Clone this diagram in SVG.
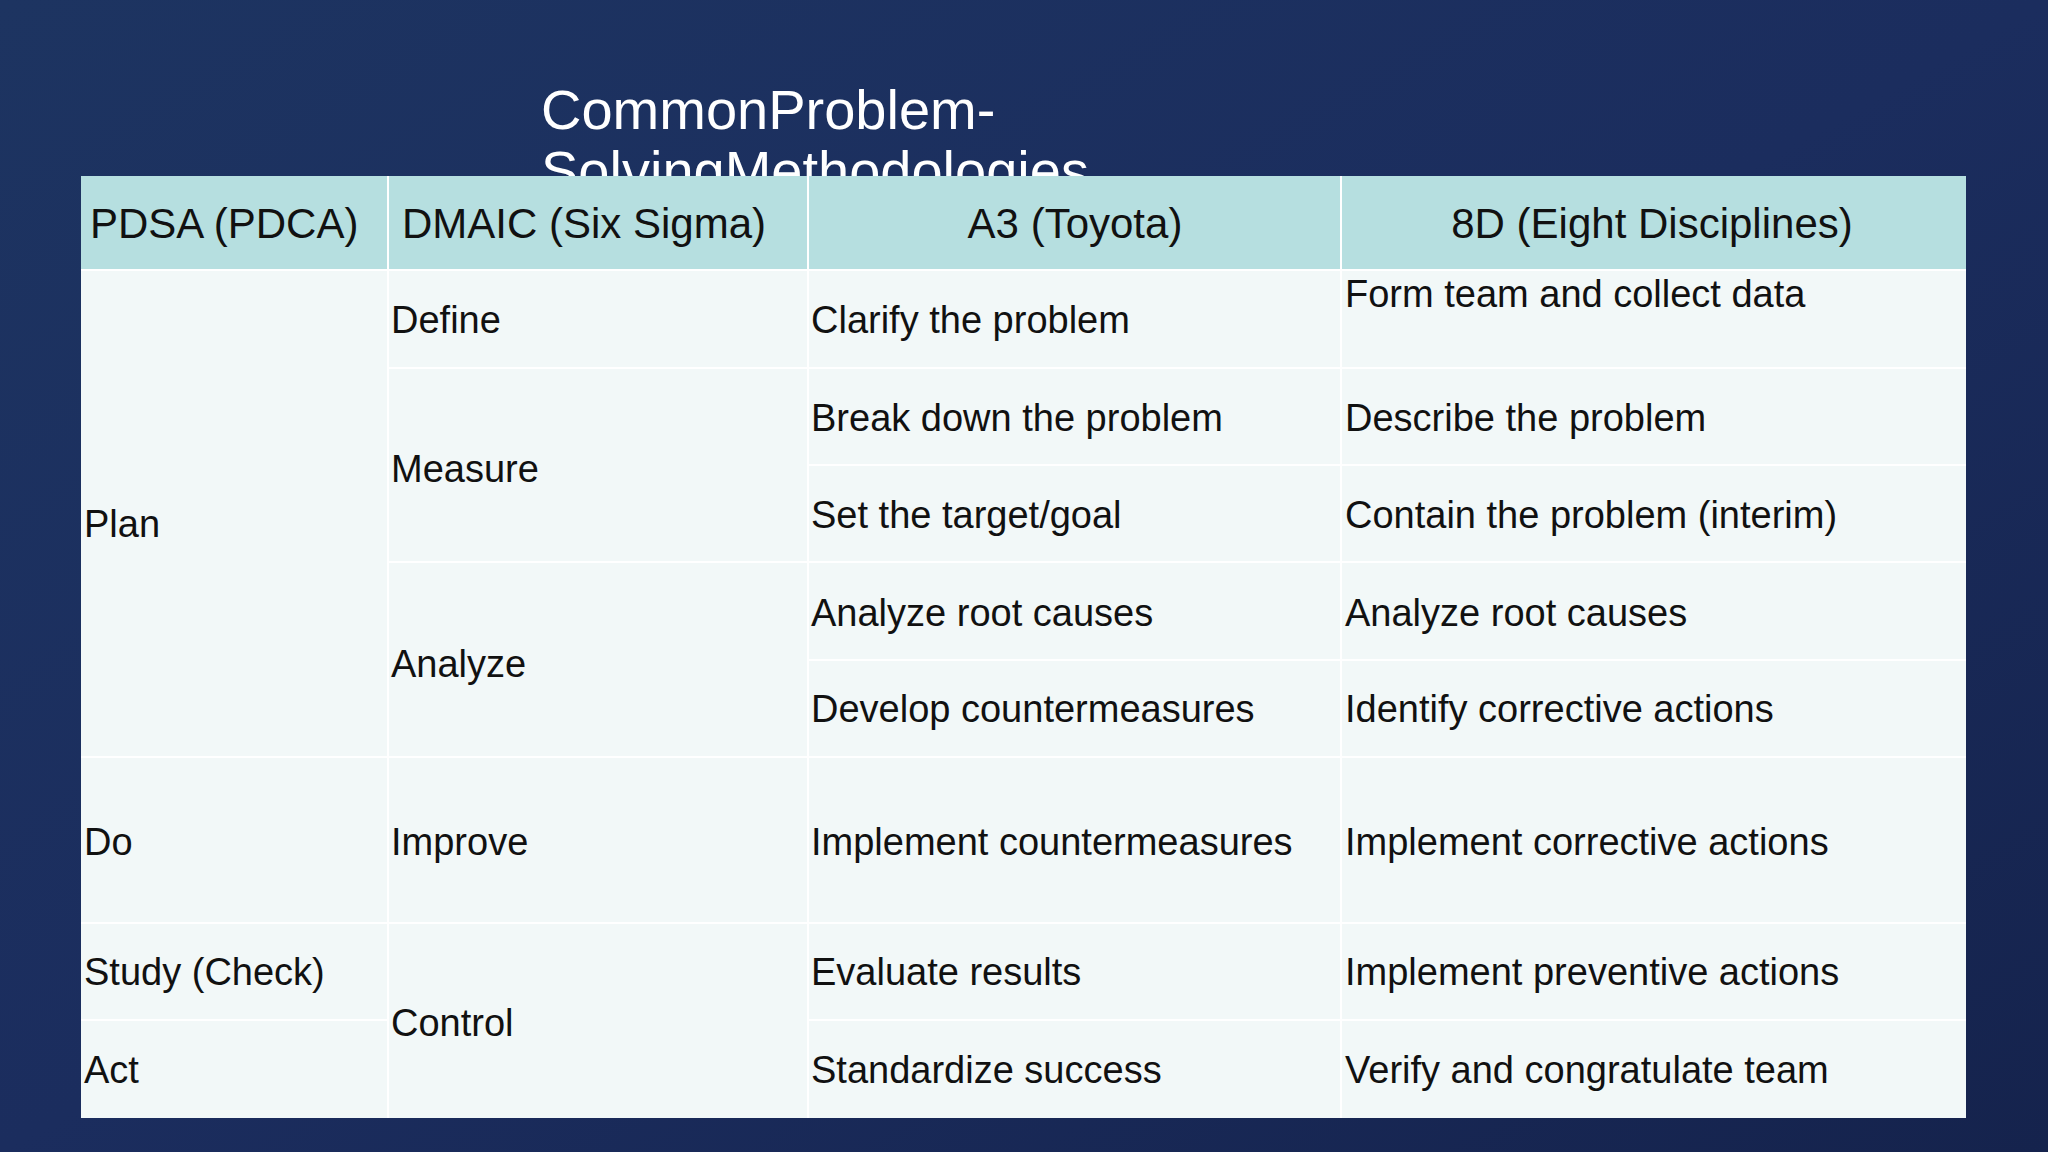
<svg xmlns="http://www.w3.org/2000/svg" width="2048" height="1152" viewBox="0 0 2048 1152">
<defs>
<linearGradient id="bg" x1="0" y1="0" x2="1" y2="1">
<stop offset="0" stop-color="#1d3461"/><stop offset="0.5" stop-color="#1b2d5e"/><stop offset="1" stop-color="#15234d"/>
</linearGradient>
<style>
.t{font-family:"Liberation Sans",Arial,sans-serif;font-size:38px;fill:#111}
.h{font-family:"Liberation Sans",Arial,sans-serif;font-size:42px;fill:#111}
.ln{stroke:#ffffff;stroke-width:2}
</style>
</defs>
<rect width="2048" height="1152" fill="url(#bg)"/>
<g id="title" font-family="Liberation Sans,Arial,sans-serif" font-size="56" fill="#ffffff">
<text x="541" y="129">CommonProblem-</text>
<text x="541" y="190">SolvingMethodologies</text>
</g>
<g id="table">
<rect x="81" y="176" width="1885" height="942" fill="#f2f8f8"/>
<rect x="81" y="176" width="1885" height="94" fill="#b6dfe0"/>
</g>
<g id="lines">
<line class="ln" x1="81" y1="270" x2="1966" y2="270"/>
<line class="ln" x1="388" y1="368" x2="1966" y2="368"/>
<line class="ln" x1="808" y1="465" x2="1966" y2="465"/>
<line class="ln" x1="388" y1="562" x2="1966" y2="562"/>
<line class="ln" x1="808" y1="660" x2="1966" y2="660"/>
<line class="ln" x1="81" y1="757" x2="1966" y2="757"/>
<line class="ln" x1="81" y1="923" x2="1966" y2="923"/>
<line class="ln" x1="808" y1="1020" x2="1966" y2="1020"/>
<line class="ln" x1="81" y1="1020" x2="388" y2="1020"/>
<line class="ln" x1="388" y1="176" x2="388" y2="1118"/>
<line class="ln" x1="808" y1="176" x2="808" y2="1118"/>
<line class="ln" x1="1341" y1="176" x2="1341" y2="1118"/>
</g>
<g id="header">
<text class="h" x="90" y="238">PDSA (PDCA)</text>
<text class="h" x="402" y="238">DMAIC (Six Sigma)</text>
<text class="h" x="1075" y="238" text-anchor="middle">A3 (Toyota)</text>
<text class="h" x="1652" y="238" text-anchor="middle">8D (Eight Disciplines)</text>
</g>
<g id="col1">
<text class="t" x="84" y="537">Plan</text>
<text class="t" x="84" y="855">Do</text>
<text class="t" x="84" y="985">Study (Check)</text>
<text class="t" x="84" y="1083">Act</text>
</g>
<g id="col2">
<text class="t" x="391" y="333">Define</text>
<text class="t" x="391" y="482">Measure</text>
<text class="t" x="391" y="677">Analyze</text>
<text class="t" x="391" y="855">Improve</text>
<text class="t" x="391" y="1036">Control</text>
</g>
<g id="col3">
<text class="t" x="811" y="333">Clarify the problem</text>
<text class="t" x="811" y="431">Break down the problem</text>
<text class="t" x="811" y="528">Set the target/goal</text>
<text class="t" x="811" y="626">Analyze root causes</text>
<text class="t" x="811" y="722">Develop countermeasures</text>
<text class="t" x="811" y="855">Implement countermeasures</text>
<text class="t" x="811" y="985">Evaluate results</text>
<text class="t" x="811" y="1083">Standardize success</text>
</g>
<g id="col4">
<text class="t" x="1345" y="307">Form team and collect data</text>
<text class="t" x="1345" y="431">Describe the problem</text>
<text class="t" x="1345" y="528">Contain the problem (interim)</text>
<text class="t" x="1345" y="626">Analyze root causes</text>
<text class="t" x="1345" y="722">Identify corrective actions</text>
<text class="t" x="1345" y="855">Implement corrective actions</text>
<text class="t" x="1345" y="985">Implement preventive actions</text>
<text class="t" x="1345" y="1083">Verify and congratulate team</text>
</g>
</svg>
